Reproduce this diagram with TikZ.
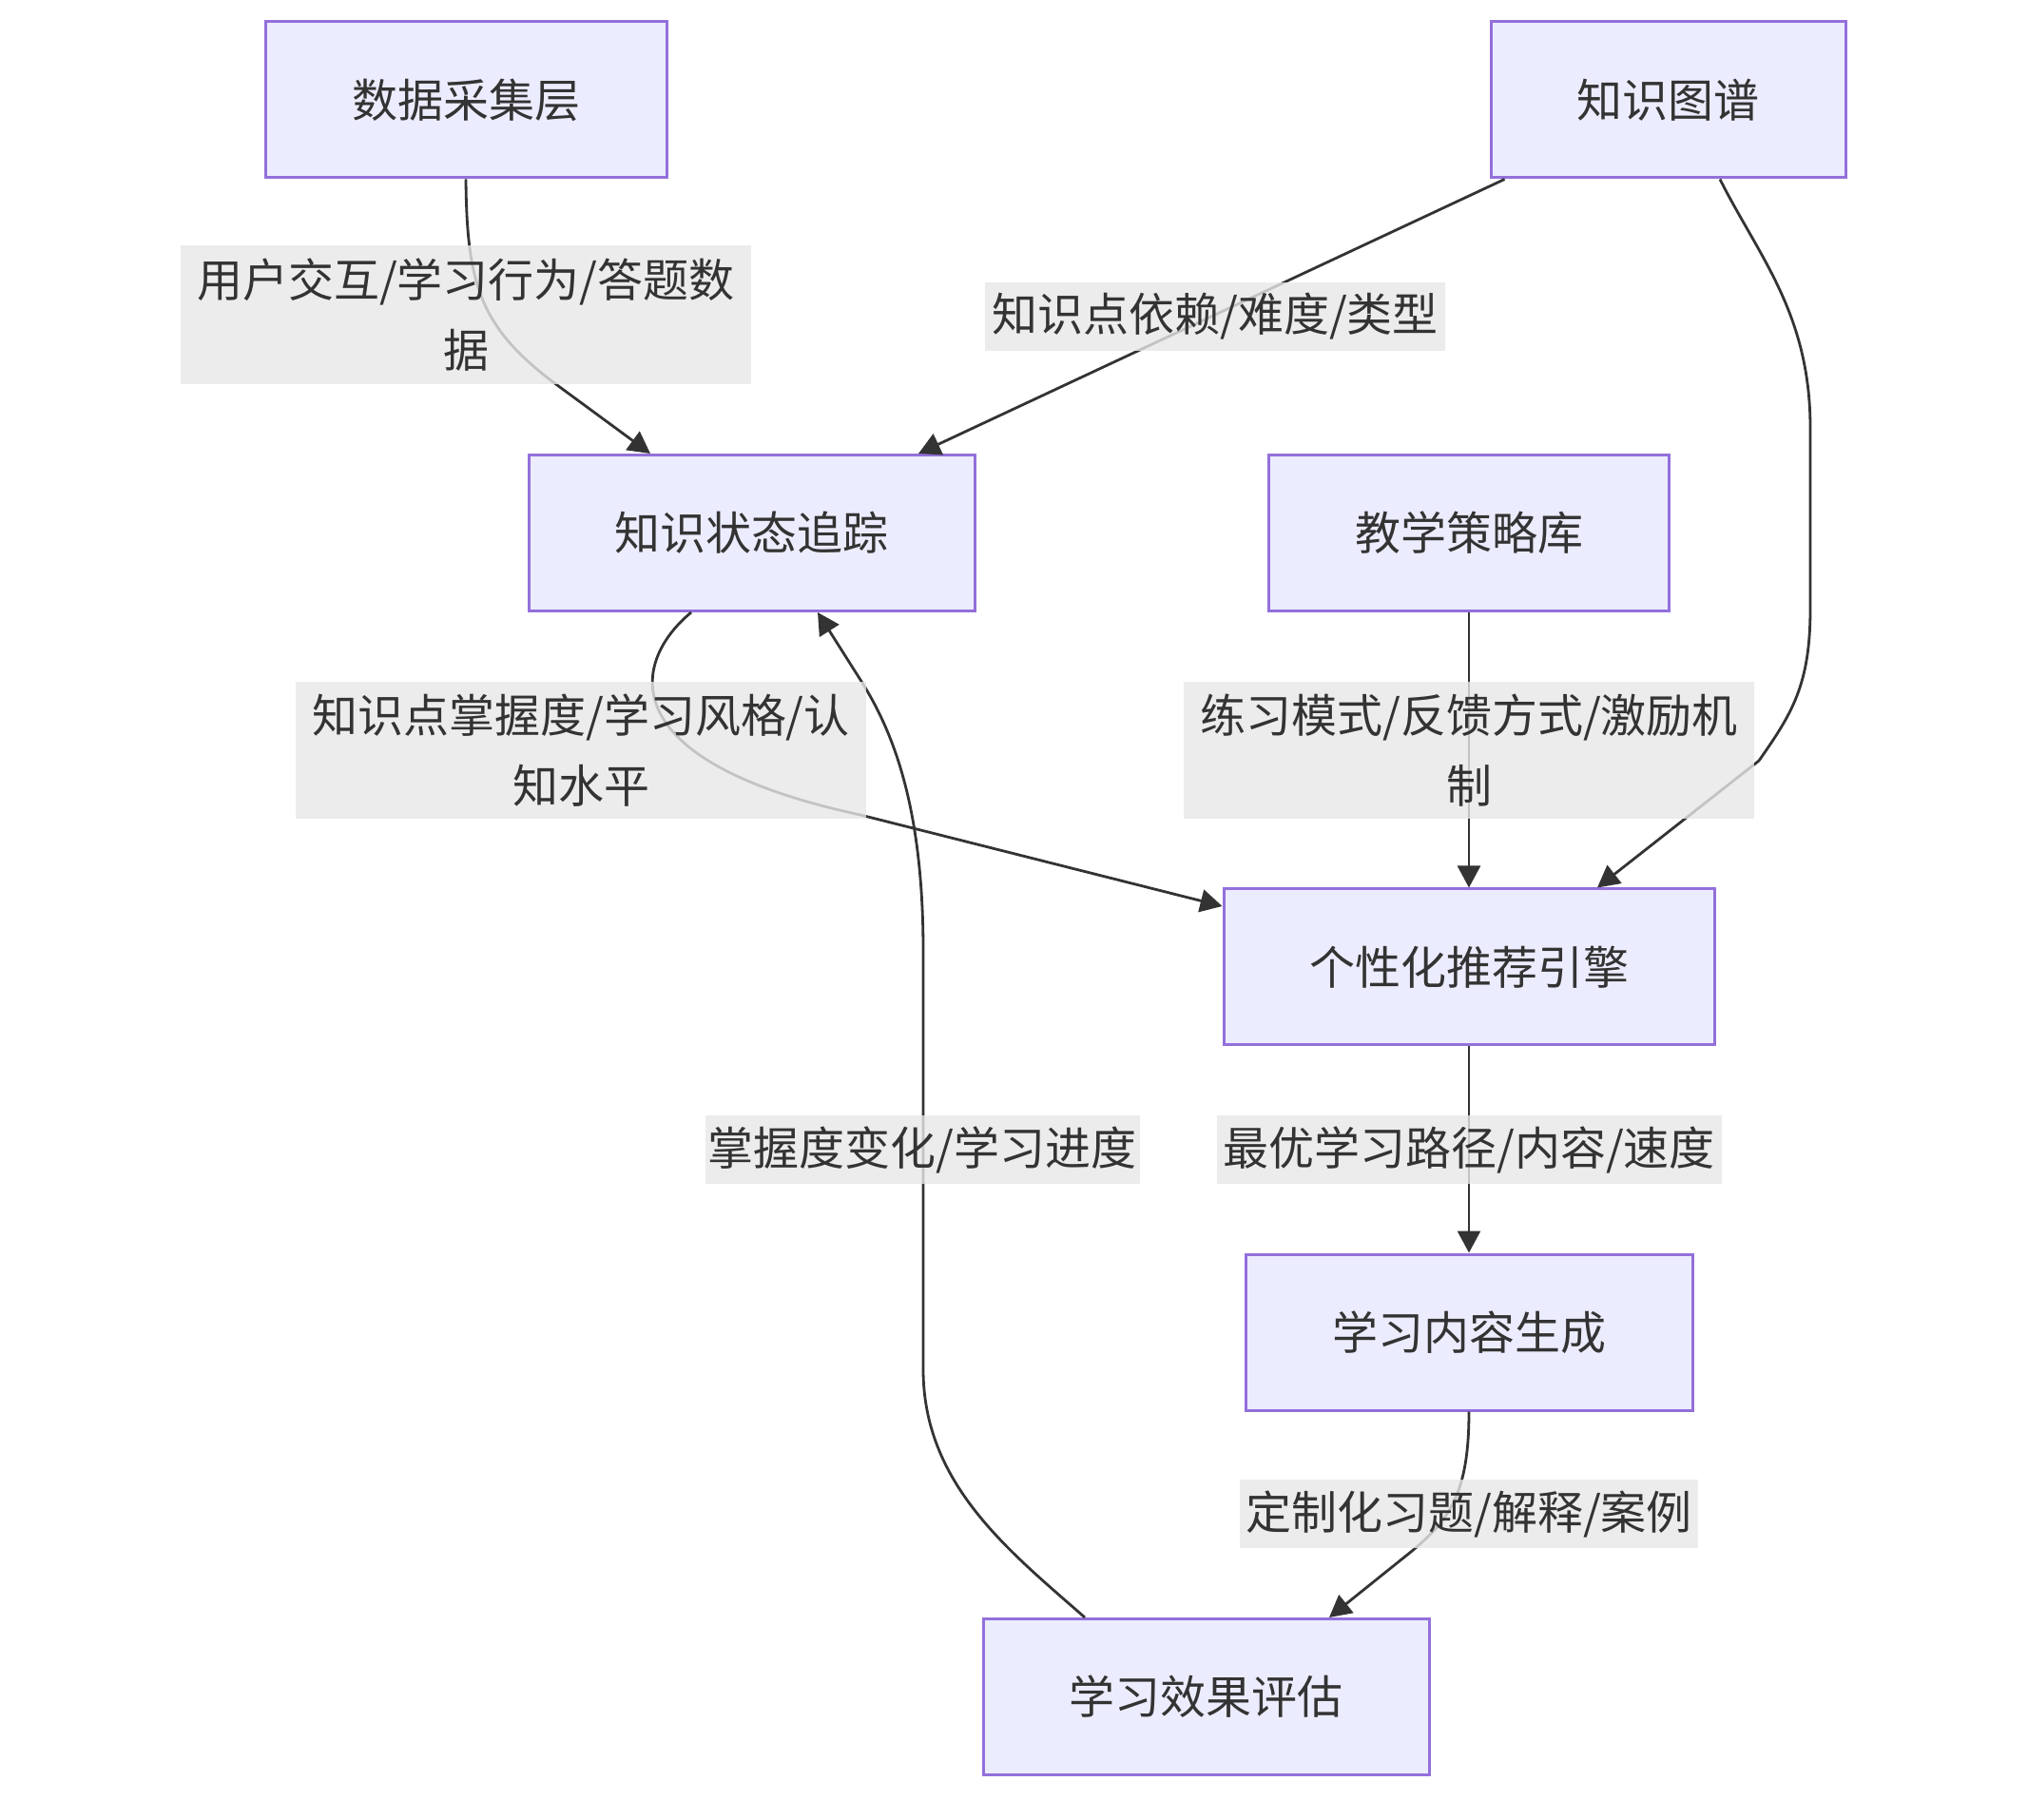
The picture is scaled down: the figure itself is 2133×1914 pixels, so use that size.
\documentclass[tikz,border=0pt]{standalone}
\usepackage{fontspec}
\setmainfont{Noto Sans CJK SC}
\usetikzlibrary{arrows.meta}
\definecolor{nodefill}{HTML}{ECECFF}
\definecolor{nodeborder}{HTML}{9370DB}
\definecolor{ink}{HTML}{333333}
\definecolor{labelbg}{HTML}{E8E8E8}
\begin{document}
\begin{tikzpicture}[x=0.5pt,y=-0.5pt,
  box/.style={draw=nodeborder, fill=nodefill, line width=1.5pt, text=ink,
    font=\fontsize{24}{37}\selectfont, minimum height=82pt, inner sep=0pt},
  edge/.style={draw=ink, line width=1.4pt, -{Triangle[length=11.5pt,width=12pt]}},
  elabel/.style={fill=labelbg, fill opacity=0.8, text opacity=1, text=ink,
    font=\fontsize{24}{37}\selectfont, inner sep=0pt, align=center}]
\fill[white] (0,0) rectangle (2133,1914);
\useasboundingbox (0,0) rectangle (2133,1914);

% nodes
\node[box, minimum width=211pt]   (A) at (490,105)     {数据采集层};
\node[box, minimum width=186.5pt] (B) at (1754.5,105)  {知识图谱};
\node[box, minimum width=234.5pt] (C) at (790.5,560.5) {知识状态追踪};
\node[box, minimum width=210.5pt] (D) at (1545,560.5)  {教学策略库};
\node[box, minimum width=258pt]   (E) at (1545,1017)   {个性化推荐引擎};
\node[box, minimum width=235pt]   (F) at (1545,1401)   {学习内容生成};
\node[box, minimum width=234.5pt] (G) at (1268.5,1784.5) {学习效果评估};

% edges
\draw[edge] (A.south) .. controls (491,300) and (505,345) .. (586,405) -- ([xshift=-53.25pt]C.north);
\draw[edge] ([xshift=8pt]B.south west) -- ([xshift=87.75pt]C.north);
\draw[edge] ([xshift=27.25pt]B.south) .. controls (1850,270) and (1904,330) .. (1904,450)
  -- (1904,640) .. controls (1904,720) and (1885,750) .. (1850,800) -- ([xshift=67.5pt]E.north);
\draw[edge] ([xshift=-31.75pt]C.south) .. controls (665,695) and (640,800) .. (905,857) -- ([yshift=32pt]E.west);
\draw[edge] (D.south) -- (E.north);
\draw[edge] (E.south) -- (F.north);
\draw[edge] (F.south) .. controls (1545,1570) and (1525,1598) .. (1484,1632) -- ([xshift=64.75pt]G.north);
\draw[edge] ([xshift=-63.75pt]G.north) .. controls (1060,1630) and (971,1560) .. (971,1440)
  -- (971,1000) .. controls (971,850) and (940,770) .. (905,715) -- ([xshift=34.75pt]C.south);

% edge labels
\node[elabel, minimum width=300pt, minimum height=73pt] (l1) at (490,331) {用户交互/学习行为/答题数\\据};
\node[elabel, minimum width=242pt, minimum height=36pt] (l2) at (1278,333) {知识点依赖/难度/类型};
\node[elabel, minimum width=300pt, minimum height=72pt] (l3) at (611,789) {知识点掌握度/学习风格/认\\知水平};
\node[elabel, minimum width=300pt, minimum height=72pt] (l4) at (1545,789) {练习模式/反馈方式/激励机\\制};
\node[elabel, minimum width=228.5pt, minimum height=36pt] (l5) at (970,1209) {掌握度变化/学习进度};
\node[elabel, minimum width=265.5pt, minimum height=36pt] (l6) at (1545,1209) {最优学习路径/内容/速度};
\node[elabel, minimum width=241pt, minimum height=36pt] (l7) at (1545,1592) {定制化习题/解释/案例};
\end{tikzpicture}
\end{document}
